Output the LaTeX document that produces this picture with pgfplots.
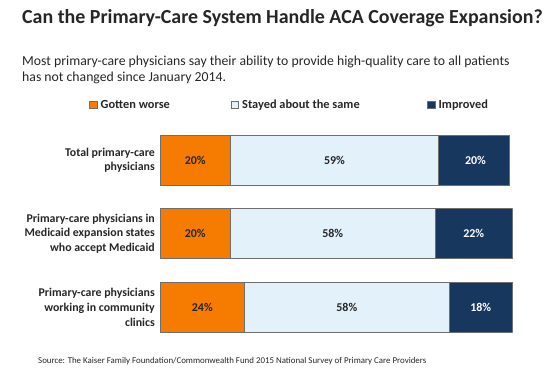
\documentclass[border=0pt]{standalone}
\usepackage{pgfplots}
\pgfplotsset{compat=1.18}
\usepackage{fontspec}
\setmainfont{Carlito}
\definecolor{cOrange}{RGB}{245,124,0}
\definecolor{cLight}{RGB}{226,241,250}
\definecolor{cNavy}{RGB}{23,55,94}
\definecolor{cEdge}{RGB}{110,110,110}
\begin{document}
\begin{tikzpicture}
\path[use as bounding box] (0,0) rectangle (553bp,369bp);
\node[anchor=base west, inner sep=0pt, font=\fontsize{20}{24}\selectfont\bfseries, text=black!85] at (22bp,345bp) {Can the Primary-Care System Handle ACA Coverage Expansion?};
\node[anchor=base west, inner sep=0pt, font=\fontsize{13.8}{16}\selectfont, text=black!85] at (22bp,303bp) {Most primary-care physicians say their ability to provide high-quality care to all patients};
\node[anchor=base west, inner sep=0pt, font=\fontsize{13.8}{16}\selectfont, text=black!85] at (22bp,287bp) {has not changed since January 2014.};
\node[anchor=base west, inner sep=0pt, font=\fontsize{8.9}{10}\selectfont, text=black!85] at (38bp,6bp) {Source: The Kaiser Family Foundation/Commonwealth Fund 2015 National Survey of Primary Care Providers};
\begin{axis}[
  at={(160bp,25bp)}, anchor=south west,
  scale only axis, width=352.5bp, height=220.5bp,
  xbar stacked, bar width=50bp,
  xmin=0, xmax=100, ymin=-0.5, ymax=2.5,
  hide x axis,
  y axis line style={draw=none},
  ytick={0,1,2},
  yticklabels={{Primary-care physicians\\working in community\\clinics},{Primary-care physicians in\\Medicaid expansion states\\who accept Medicaid},{Total primary-care\\physicians}},
  yticklabel style={align=right, anchor=east, inner sep=0pt, xshift=-5bp, font=\fontsize{11.9}{14.7}\selectfont\bfseries, text=black!85},
  major tick length=0pt,
  legend columns=3,
  legend style={draw=none, fill=none, at={(-0.2014,1.084)}, anchor=west, font=\fontsize{12.4}{14}\selectfont\bfseries, text=black!85, inner sep=0pt,
    /tikz/every odd column/.append style={column sep=1.5bp}},
  legend image code/.code={\draw[#1, line width=0.5bp] (0bp,-3.75bp) rectangle (7.5bp,3.75bp);},
]
\addplot[fill=cOrange, draw=cEdge, line width=0.6bp] coordinates {(24,0) (20,1) (20,2)};
\addlegendentry{\makebox[128bp][l]{Gotten worse}}
\addplot[fill=cLight, draw=cEdge, line width=0.6bp] coordinates {(58,0) (58,1) (59,2)};
\addlegendentry{\makebox[183bp][l]{Stayed about the same}}
\addplot[fill=cNavy, draw=cEdge, line width=0.6bp] coordinates {(18,0) (22,1) (20,2)};
\addlegendentry{Improved}
\end{axis}
\begin{axis}[
  at={(160bp,25bp)}, anchor=south west,
  scale only axis, width=352.5bp, height=220.5bp,
  xmin=0, xmax=100, ymin=-0.5, ymax=2.5,
  hide axis,
  point meta=explicit symbolic,
  nodes near coords={\pgfplotspointmeta\%},
  every node near coord/.append style={anchor=center, inner sep=0pt, font=\fontsize{12}{14}\selectfont\bfseries},
]
\addplot[draw=none, mark=none, nodes near coords style={text=black!85}] coordinates {(12,0) [24] (10,1) [20] (10,2) [20]};
\addplot[draw=none, mark=none, nodes near coords style={text=black!85}] coordinates {(53,0) [58] (49,1) [58] (49.5,2) [59]};
\addplot[draw=none, mark=none, nodes near coords style={text=white}] coordinates {(91,0) [18] (89,1) [22] (89.5,2) [20]};
\end{axis}
\end{tikzpicture}
\end{document}
